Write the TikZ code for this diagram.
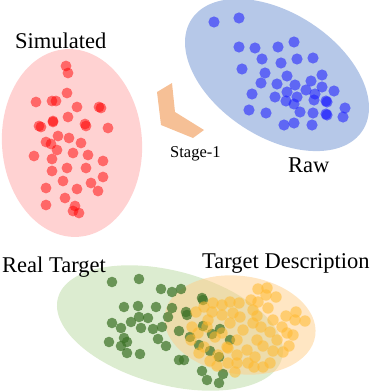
\documentclass[tikz,border=0pt]{standalone}
\usepackage{fontspec}
\setmainfont{Liberation Serif}
\definecolor{pinkfill}{RGB}{255,210,210}
\definecolor{bluefill}{RGB}{182,200,232}
\definecolor{greenfill}{RGB}{220,236,208}
\definecolor{orangefill}{RGB}{255,205,135}
\definecolor{reddot}{RGB}{255,0,0}
\definecolor{bluedot}{RGB}{25,25,255}
\definecolor{greendot}{RGB}{62,115,40}
\definecolor{orangedot}{RGB}{255,185,45}
\definecolor{chevron}{RGB}{246,192,150}
\tikzset{
  bigtext/.style={font=\fontsize{22.5}{27}\selectfont, inner sep=0pt, anchor=base west},
  smalltext/.style={font=\fontsize{16.5}{20}\selectfont, inner sep=0pt, anchor=base west},
  rdot/.style={fill=reddot, fill opacity=0.5},
  bdot/.style={fill=bluedot, fill opacity=0.55},
  gdot/.style={fill=greendot, fill opacity=0.72},
  odot/.style={fill=orangedot, fill opacity=0.55},
}
\begin{document}
\begin{tikzpicture}[x=1pt,y=-1pt]
\path[use as bounding box] (0,0) rectangle (374,391);
% ellipses
\fill[pinkfill, rotate around={4:(72,143)}] (72,143) ellipse [x radius=70, y radius=94];
\fill[bluefill, rotate around={-33:(277,75)}] (277,75) ellipse [x radius=102, y radius=62];
\fill[greenfill, rotate around={-15:(170,328)}] (170,328) ellipse [x radius=116, y radius=57];
\fill[orangefill, fill opacity=0.5, rotate around={-8:(240,325)}] (240,325) ellipse [x radius=76, y radius=49];
% chevron
\fill[chevron] (157,92) -- (172,83) -- (175,112) -- (204,130) -- (193,138) -- (161,125) -- cycle;
% red dots
\foreach \x/\y in {66/66,68/73,67/93,36/102,52/101,56/101,77/107,99/107,101/108,68/117,53/121,53/122,39/126,41/127,85/124,86/126,108/128,58/136,69/138,46/142,51/144,81/143,57/150,73/153,88/155,34/156,52/159,103/161,67/168,86/168,52/171,103/177,63/181,91/183,46/188,77/189,98/191,65/198,46/205,75/206,73/211,79/213}
  \fill[rdot] (\x,\y) circle [radius=5.4];
% blue dots
\foreach \x/\y in {214/22,239/18,239/47,255/48,278/47,294/42,262/59,281/63,297/59,313/58,242/69,265/73,287/76,322/75,261/83,277/84,295/85,311/81,322/87,334/91,252/94,287/92,306/90,315/94,275/97,286/101,297/97,314/100,326/101,327/102,294/104,249/110,266/113,300/112,313/113,326/114,327/115,345/108,343/117,284/125,294/123,312/125}
  \fill[bdot] (\x,\y) circle [radius=5.6];
% green dots
\foreach \x/\y in {112/282,139/279,161/289,172/292,181/289,202/298,203/300,124/307,138/306,156/307,172/308,186/312,112/323,121/328,131/322,139/317,148/318,168/317,141/328,153/329,162/327,179/331,187/315,203/326,220/329,109/342,121/346,124/338,127/342,127/353,140/354,158/339,166/346,190/337,212/334,230/340,199/345,210/351,219/357,179/360,184/360,202/371,207/380,219/383,223/374}
  \fill[gdot] (\x,\y) circle [radius=5.3];
% orange dots
\foreach \x/\y in {258/289,267/288,266/295,276/297,251/300,258/302,239/303,230/302,222/305,204/307,213/303,268/308,253/310,233/313,212/312,196/312,296/312,286/316,257/316,240/317,222/315,208/320,273/320,295/320,305/321,253/323,230/323,192/327,207/327,261/327,282/327,287/333,270/332,243/330,222/333,198/333,293/335,191/340,215/337,237/340,257/340,277/340,289/346,204/347,227/347,247/350,263/346,273/351,283/352,199/353,218/355,237/355,255/357,210/361,228/363,237/363,248/363,270/363,217/366,254/367,263/367,235/372,228/348}
  \fill[odot] (\x,\y) circle [radius=5.7];
% labels
\node[bigtext] (sim) at (15,48) {Simulated};
\node[bigtext] (raw) at (288,172) {Raw};
\node[smalltext] (stage) at (170,157) {Stage-1};
\node[bigtext] (real) at (2,272) {Real Target};
\node[bigtext] (desc) at (202,268) {Target Description};
\end{tikzpicture}
\end{document}
